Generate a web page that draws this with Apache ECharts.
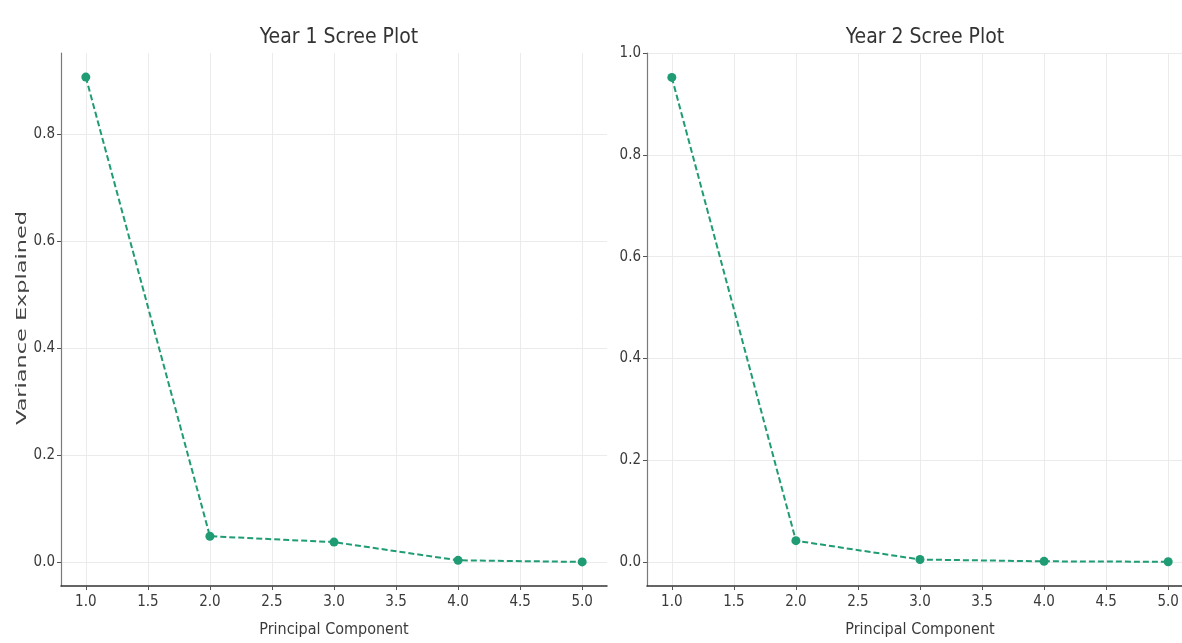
<!DOCTYPE html>
<html>
<head>
<meta charset="utf-8">
<title>Scree Plots</title>
<script src="https://cdn.jsdelivr.net/npm/echarts@6/dist/echarts.min.js"></script>
<style>
  html, body { margin: 0; padding: 0; background: #ffffff; overflow: hidden; }
  /* the second panel runs slightly past the right edge, so the canvas is
     wider than the visible frame and the frame clips it */
  #frame { width: 1182px; height: 643px; overflow: hidden; position: relative; }
  #chart { position: absolute; left: 0; top: 0; width: 1200px; height: 643px; }
</style>
</head>
<body>
<div id="frame"><div id="chart"></div></div>
<script>
// Principal components on the x axis
const components = [1, 2, 3, 4, 5];
// Share of variance explained by each component
const year1Variance = [0.907, 0.049, 0.038, 0.004, 0.001];
const year2Variance = [0.952, 0.042, 0.005, 0.0015, 0.0006];

// Tick positions shown on the axes
const xTicks = [1.0, 1.5, 2.0, 2.5, 3.0, 3.5, 4.0, 4.5, 5.0];
const year1YTicks = [0.0, 0.2, 0.4, 0.6, 0.8];
const year2YTicks = [0.0, 0.2, 0.4, 0.6, 0.8, 1.0];

// Axis limits (data range padded by 5%)
const xRange = [0.8, 5.2];
const year1YRange = [-0.044, 0.952];
const year2YRange = [-0.047, 1.0];

const titles = ['Year 1 Scree Plot', 'Year 2 Scree Plot'];
const xName = 'Principal Component';
const yName = 'Variance Explained';

const LINE_COLOR = '#1f9c74';
const TEXT_COLOR = '#3a3a3a';
const GRID_COLOR = '#ebebeb';
const FONT = '"DejaVu Sans Condensed", "DejaVu Sans", sans-serif';

const fmt = v => Number(v).toFixed(1);

function xAxisFor(gridIndex) {
  return {
    type: 'value',
    gridIndex,
    min: xRange[0],
    max: xRange[1],
    name: xName,
    nameLocation: 'middle',
    nameGap: 36,
    nameTextStyle: { fontFamily: FONT, fontSize: 16, color: TEXT_COLOR },
    axisLine: { show: true, onZero: false, lineStyle: { color: '#333333', width: 1.5 } },
    axisTick: { show: true, customValues: xTicks, length: 4, lineStyle: { color: '#555555' } },
    axisLabel: { customValues: xTicks, formatter: fmt, margin: 9,
                 fontFamily: FONT, fontSize: 15, color: TEXT_COLOR },
    splitLine: { show: true, lineStyle: { color: GRID_COLOR, width: 1 } }
  };
}

function yAxisFor(gridIndex, range, ticks) {
  return {
    type: 'value',
    gridIndex,
    min: range[0],
    max: range[1],
    axisLine: { show: true, onZero: false, lineStyle: { color: '#7a7a7a', width: 1.2 } },
    axisTick: { show: true, customValues: ticks, length: 4, lineStyle: { color: '#555555' } },
    axisLabel: { customValues: ticks, formatter: fmt, margin: 6,
                 fontFamily: FONT, fontSize: 15, color: TEXT_COLOR },
    splitLine: { show: true, lineStyle: { color: GRID_COLOR, width: 1 } }
  };
}

function seriesFor(index, values) {
  return {
    type: 'line',
    xAxisIndex: index,
    yAxisIndex: index,
    data: components.map((c, i) => [c, values[i]]),
    symbol: 'circle',
    symbolSize: 9,
    itemStyle: { color: LINE_COLOR },
    lineStyle: { color: LINE_COLOR, width: 2, type: [6, 3] },
    clip: false,
    animation: false
  };
}

const grids = [
  { left: 61, top: 53, width: 546, height: 535 },
  { left: 647, top: 53, width: 546, height: 535 }
];

const chart = echarts.init(document.getElementById('chart'), null, { renderer: 'canvas' });
chart.setOption({
  backgroundColor: '#ffffff',
  animation: false,
  title: titles.map((t, i) => ({
    text: t,
    left: grids[i].left + grids[i].width / 2,
    top: 22,
    textAlign: 'center',
    textStyle: { fontFamily: FONT, fontSize: 21, fontWeight: 'normal', color: '#333333' }
  })),
  grid: grids,
  xAxis: [xAxisFor(0), xAxisFor(1)],
  yAxis: [yAxisFor(0, year1YRange, year1YTicks), yAxisFor(1, year2YRange, year2YTicks)],
  series: [seriesFor(0, year1Variance), seriesFor(1, year2Variance)],
  graphic: [{
    type: 'text',
    x: 22,
    y: 318,
    rotation: Math.PI / 2,
    scaleX: 1.4,
    scaleY: 0.9,
    style: {
      text: yName,
      fontFamily: '"DejaVu Sans", sans-serif',
      fontSize: 16,
      fill: '#444444',
      align: 'center',
      verticalAlign: 'middle'
    }
  }]
});
</script>
</body>
</html>
